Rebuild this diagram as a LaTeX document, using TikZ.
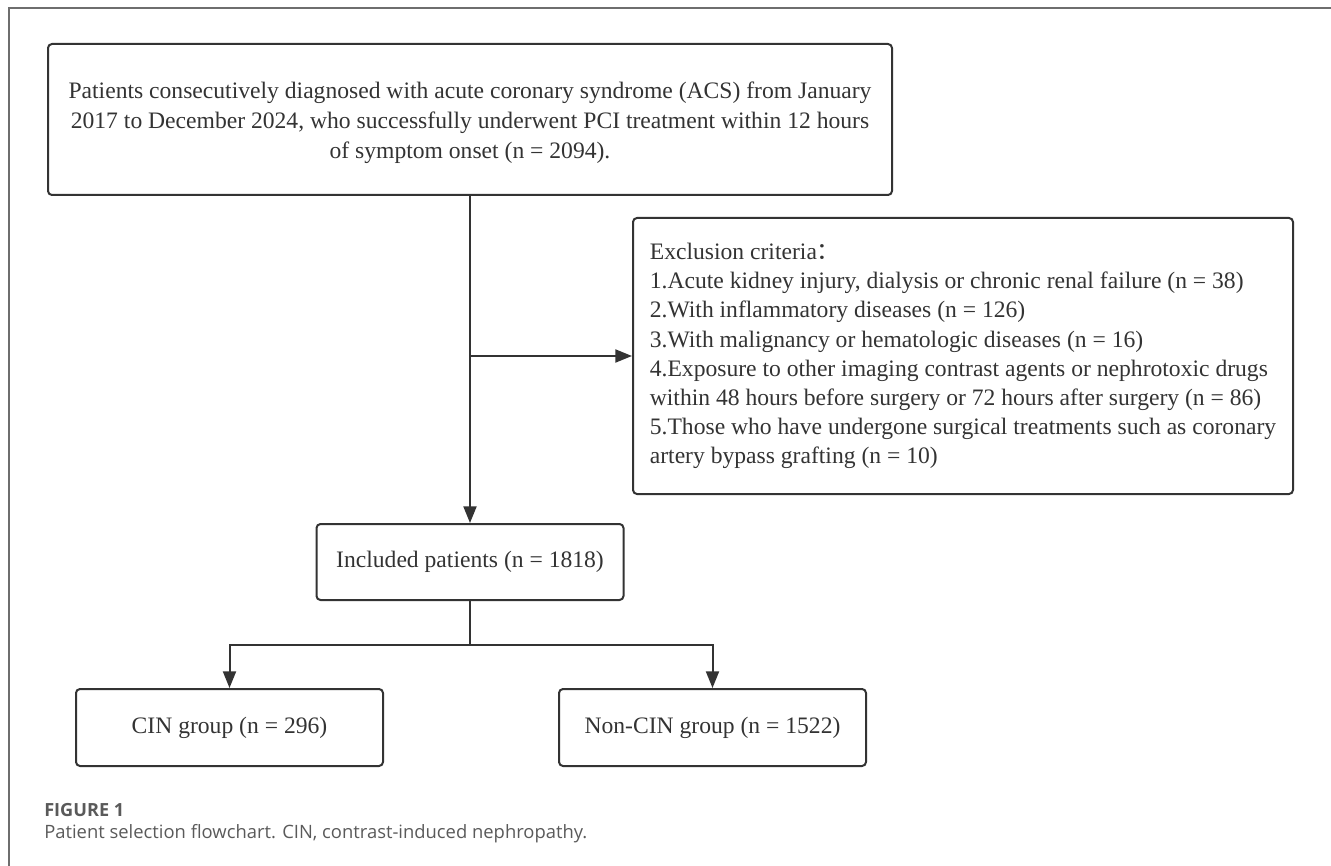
\documentclass[tikz,border=0pt]{standalone}
\usepackage{fontspec}
\setmainfont{Liberation Serif}
\newfontfamily\capfont{Open Sans}
\newfontfamily\cjkfont{Noto Sans CJK SC}
\usepackage{tikz}
\usetikzlibrary{positioning, arrows.meta}
\definecolor{boxline}{HTML}{333333}
\definecolor{framegray}{HTML}{6E6E6E}
\definecolor{capgray}{HTML}{5A5A5A}

\begin{document}
\begin{tikzpicture}[x=0.75pt, y=-0.75pt,
  >={Triangle[length=12.5pt, width=9.75pt]},
  box/.style={draw=boxline, line width=1.5pt, rounded corners=3pt, inner sep=0pt, text=boxline,
    font=\fontsize{17.7}{22.5}\selectfont},
  link/.style={draw=boxline, line width=1.5pt},
  captext/.style={anchor=base west, inner sep=0pt, text=capgray}]
			\useasboundingbox (0,0) rectangle (1331,866);
			\draw[framegray, line width=1.2pt] (1331,8) -- (9,8) -- (9,866);
			\draw[boxline, line width=1.5pt]
			node[box, minimum width=633pt, minimum height=113.25pt, align=center] (patients) at (470, 119.5){\rule{0pt}{18pt}Patients consecutively diagnosed with acute coronary syndrome (ACS) from January\\2017 to December 2024, who successfully underwent PCI treatment within 12 hours\\of symptom onset (n = 2094).}
			node[box, minimum width=495pt, minimum height=207pt, align=left,
				font=\fontsize{17.7}{21.9}\selectfont] (exclusion) at (963, 356){Exclusion criteria{\cjkfont\smash{：}}\\1.Acute kidney injury, dialysis or chronic renal failure (n = 38)\\2.With inflammatory diseases (n = 126)\\3.With malignancy or hematologic diseases (n = 16)\\4.Exposure to other imaging contrast agents or nephrotoxic drugs\\within 48 hours before surgery or 72 hours after surgery (n = 86)\\5.Those who have undergone surgical treatments such as coronary\\artery bypass grafting (n = 10)}
			node[box, minimum width=230.25pt, minimum height=57pt] (included) at (470, 562){Included patients (n = 1818)}
			node[box, minimum width=230.25pt, minimum height=57.75pt] (cin) at (229.5, 727.5){CIN group (n = 296)}
			node[box, minimum width=230.25pt, minimum height=57.75pt] (noncin) at (712.5, 727.5){Non-CIN group (n = 1522)};
			\coordinate (fork) at (470, 356);
			\coordinate (split) at (470, 645);
			\draw [link, ->] (patients.south) -- (included.north);
			\draw [link, ->] (fork) -- (exclusion.west);
			\draw [link] (included.south) -- (split);
				\draw [link, ->] (split) -| (cin.north);
				\draw [link, ->] (split) -| (noncin.north);
			\node[captext, font=\capfont\bfseries\fontsize{13.6}{16}\selectfont] (figlabel) at (44, 816){FIGURE 1};
			\node[captext, font=\capfont\fontsize{13.8}{16}\selectfont] (caption) at (44, 838){Patient selection flowchart. CIN, contrast-induced nephropathy.};
		\end{tikzpicture}
\end{document}
